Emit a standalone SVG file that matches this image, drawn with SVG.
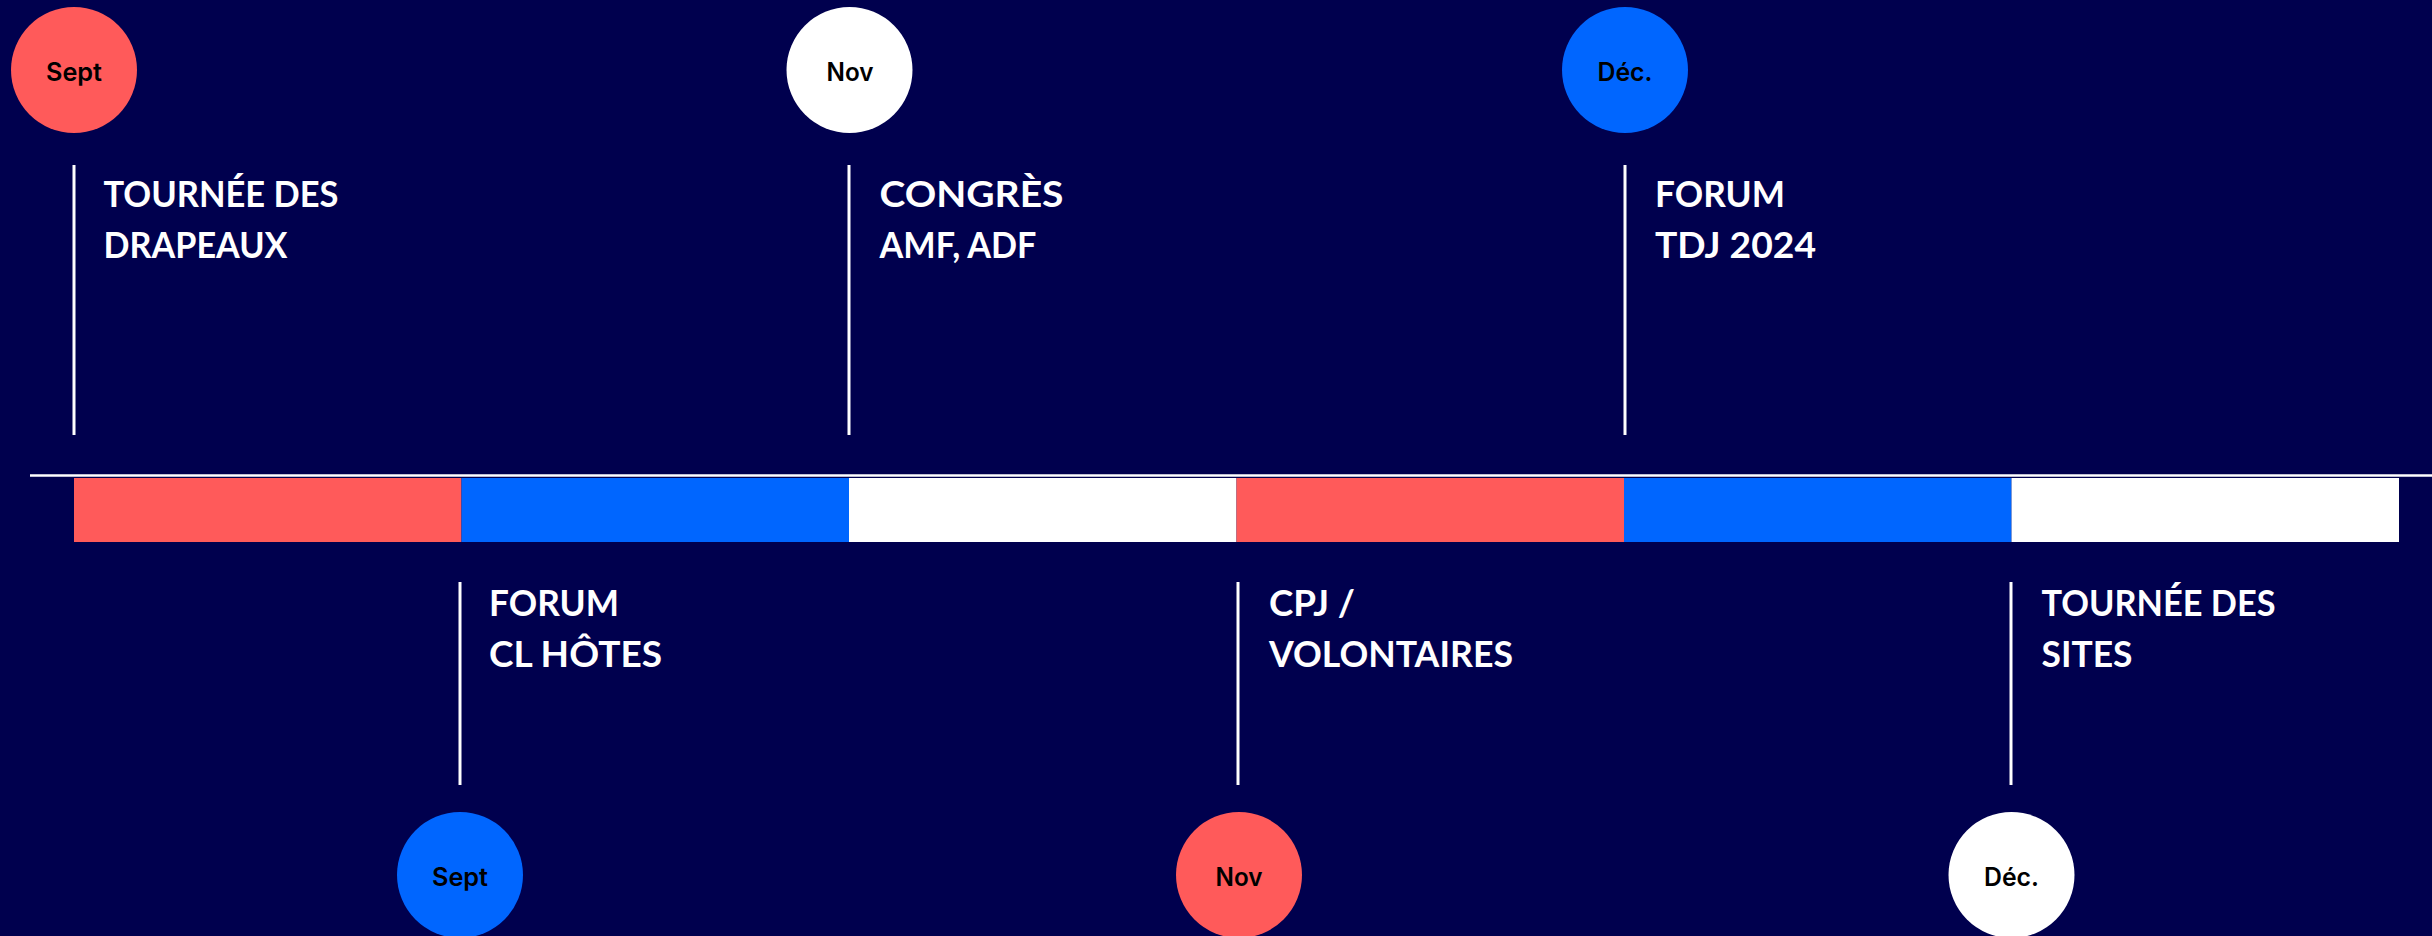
<svg xmlns="http://www.w3.org/2000/svg" width="2432" height="936" viewBox="0 0 2432 936">
  <style>
    .bg { fill: #00004e; }
    .tick { stroke: #ffffff; stroke-width: 3; }
    .axis { stroke: #ffffff; stroke-width: 2.5; }
    .lbl { font-family: "Lato", "Liberation Sans", sans-serif; font-weight: 700; font-size: 37px; fill: #ffffff; }
    .mon { font-family: "Inter", "Liberation Sans", sans-serif; font-weight: 600; font-size: 25px; fill: #000000; text-anchor: middle; }
    .red { fill: #ff5a5a; }
    .blue { fill: #0066ff; }
    .white { fill: #ffffff; }
  </style>
  <rect class="bg" x="0" y="0" width="2432" height="936"/>

  <g id="timeline-bar">
    <rect class="red" x="74" y="478" width="387.5" height="64"/>
    <rect class="blue" x="461.5" y="478" width="387.5" height="64"/>
    <rect class="white" x="849" y="478" width="387.5" height="64"/>
    <rect class="red" x="1236.5" y="478" width="387.5" height="64"/>
    <rect class="blue" x="1624" y="478" width="387.5" height="64"/>
    <rect class="white" x="2011.5" y="478" width="387.5" height="64"/>
  </g>

  <g id="connectors">
    <line class="axis" x1="30" y1="475.5" x2="2432" y2="475.5"/>
    <line class="tick" x1="74" y1="165" x2="74" y2="435"/>
    <line class="tick" x1="849" y1="165" x2="849" y2="435"/>
    <line class="tick" x1="1625" y1="165" x2="1625" y2="435"/>
    <line class="tick" x1="460" y1="582" x2="460" y2="785"/>
    <line class="tick" x1="1238" y1="582" x2="1238" y2="785"/>
    <line class="tick" x1="2011" y1="582" x2="2011" y2="785"/>
  </g>

  <g id="event-sept-top">
    <circle class="red" cx="74" cy="70" r="63"/>
    <text class="mon" x="74" y="80.5" textLength="56" lengthAdjust="spacingAndGlyphs">Sept</text>
    <text class="lbl" x="103.5" y="207" textLength="235" lengthAdjust="spacingAndGlyphs">TOURNÉE DES</text>
    <text class="lbl" x="103.5" y="258" textLength="184" lengthAdjust="spacingAndGlyphs">DRAPEAUX</text>
  </g>

  <g id="event-nov-top">
    <circle class="white" cx="849.5" cy="70" r="63"/>
    <text class="mon" x="850" y="80.5" textLength="47" lengthAdjust="spacingAndGlyphs">Nov</text>
    <text class="lbl" x="879.5" y="207" textLength="184" lengthAdjust="spacingAndGlyphs">CONGRÈS</text>
    <text class="lbl" x="879.5" y="258" textLength="157" lengthAdjust="spacingAndGlyphs">AMF, ADF</text>
  </g>

  <g id="event-dec-top">
    <circle class="blue" cx="1625" cy="70" r="63"/>
    <text class="mon" x="1625" y="80.5" textLength="55" lengthAdjust="spacingAndGlyphs">Déc.</text>
    <text class="lbl" x="1655" y="207" textLength="130" lengthAdjust="spacingAndGlyphs">FORUM</text>
    <text class="lbl" x="1655" y="258" textLength="161" lengthAdjust="spacingAndGlyphs">TDJ 2024</text>
  </g>

  <g id="event-sept-bottom">
    <circle class="blue" cx="460" cy="875" r="63"/>
    <text class="mon" x="460" y="886" textLength="56" lengthAdjust="spacingAndGlyphs">Sept</text>
    <text class="lbl" x="489" y="616" textLength="130" lengthAdjust="spacingAndGlyphs">FORUM</text>
    <text class="lbl" x="489" y="667" textLength="173" lengthAdjust="spacingAndGlyphs">CL HÔTES</text>
  </g>

  <g id="event-nov-bottom">
    <circle class="red" cx="1239" cy="875" r="63"/>
    <text class="mon" x="1239" y="886" textLength="47" lengthAdjust="spacingAndGlyphs">Nov</text>
    <text class="lbl" x="1269" y="616" textLength="86" lengthAdjust="spacingAndGlyphs">CPJ /</text>
    <text class="lbl" x="1269" y="667" textLength="244" lengthAdjust="spacingAndGlyphs">VOLONTAIRES</text>
  </g>

  <g id="event-dec-bottom">
    <circle class="white" cx="2011.5" cy="875" r="63"/>
    <text class="mon" x="2011.5" y="886" textLength="55" lengthAdjust="spacingAndGlyphs">Déc.</text>
    <text class="lbl" x="2041.5" y="616" textLength="234" lengthAdjust="spacingAndGlyphs">TOURNÉE DES</text>
    <text class="lbl" x="2041.5" y="667" textLength="91" lengthAdjust="spacingAndGlyphs">SITES</text>
  </g>
</svg>
